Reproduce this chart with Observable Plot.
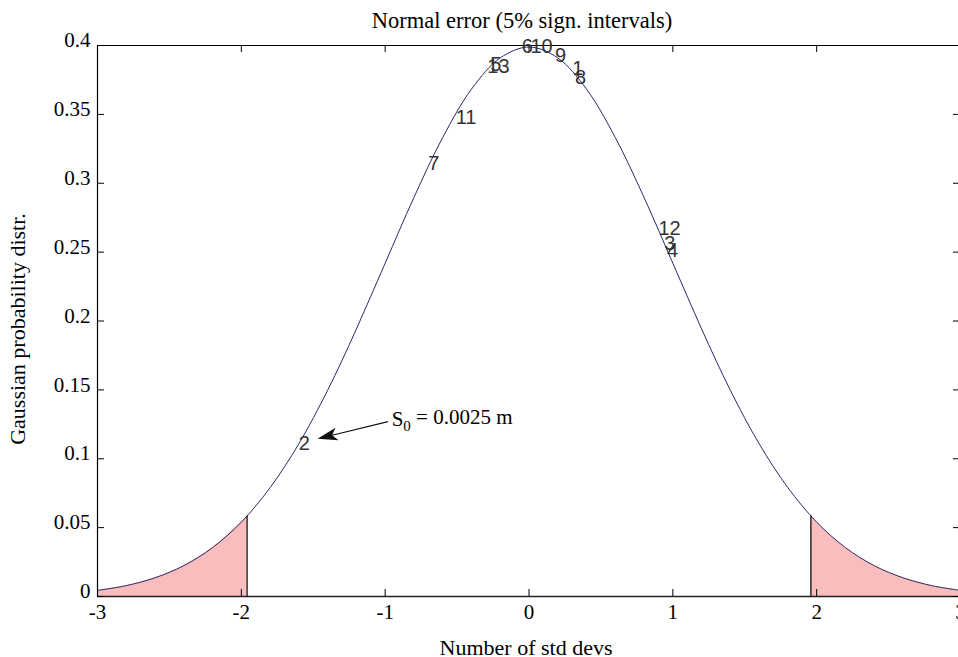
<!DOCTYPE html>
<html>
<head>
<meta charset="utf-8">
<script src="https://cdn.jsdelivr.net/npm/d3@7"></script>
<script src="https://cdn.jsdelivr.net/npm/@observablehq/plot@0.6"></script>
<style>
  html, body { margin: 0; padding: 0; background: #fff; }
  #chart svg { display: block; }
</style>
</head>
<body>
<div id="chart"></div>
<script>
// ---- data ----
const curveX = [-3.0, -2.8, -2.6, -2.4, -2.2, -2.0, -1.8, -1.6, -1.4, -1.2, -1.0, -0.8, -0.6, -0.4, -0.2, 0.0,
                0.2, 0.4, 0.6, 0.8, 1.0, 1.2, 1.4, 1.6, 1.8, 2.0, 2.2, 2.4, 2.6, 2.8, 3.0];
const curveY = [0.0044, 0.0079, 0.0136, 0.0224, 0.0355, 0.0540, 0.0790, 0.1109, 0.1497, 0.1942, 0.2420, 0.2897, 0.3332, 0.3683, 0.3910, 0.3989,
                0.3910, 0.3683, 0.3332, 0.2897, 0.2420, 0.1942, 0.1497, 0.1109, 0.0790, 0.0540, 0.0355, 0.0224, 0.0136, 0.0079, 0.0044];

const leftTailX  = [-3.0, -2.8, -2.6, -2.4, -2.2, -2.0, -1.96];
const leftTailY  = [0.0044, 0.0079, 0.0136, 0.0224, 0.0355, 0.0540, 0.0584];
const rightTailX = [1.96, 2.0, 2.2, 2.4, 2.6, 2.8, 3.0];
const rightTailY = [0.0584, 0.0540, 0.0355, 0.0224, 0.0136, 0.0079, 0.0044];

const critX = [-1.96, 1.96];
const critY = [0.0584, 0.0584];

const labelText = ["1", "2", "3", "4", "5", "6", "7", "8", "9", "10", "11", "12", "13"];
const labelX    = [0.30, -1.60, 0.94, 0.96, -0.27, -0.05, -0.70, 0.32, 0.18, 0.01, -0.51, 0.90, -0.29];
const labelY    = [0.383, 0.111, 0.256, 0.251, 0.386, 0.399, 0.314, 0.377, 0.393, 0.399, 0.348, 0.267, 0.385];

const annotText = "S0 = 0.0025 m";
const annotX = -0.955, annotY = 0.1285;
const arrowFrom = [-0.98, 0.127];
const arrowTo   = [-1.47, 0.1145];

const xTicks = [-3, -2, -1, 0, 1, 2, 3];
const yTicks = [0, 0.05, 0.1, 0.15, 0.2, 0.25, 0.3, 0.35, 0.4];
const yTickLabels = ["0", "0.05", "0.1", "0.15", "0.2", "0.25", "0.3", "0.35", "0.4"];

const titleText = "Normal error (5% sign. intervals)";
const xLabel = "Number of std devs";
const yLabel = "Gaussian probability distr.";

(function () {
// ---- build tables ----
const curve = curveX.map((x, i) => ({x, y: curveY[i]}));
const leftTail = leftTailX.map((x, i) => ({x, y: leftTailY[i]}));
const rightTail = rightTailX.map((x, i) => ({x, y: rightTailY[i]}));
const crit = critX.map((x, i) => ({x, y: critY[i]}));
const labels = labelText.map((t, i) => ({t, x: labelX[i], y: labelY[i]}));

const W = 958, H = 657;
const pL = 97, pR = 960, pT = 45, pB = 596;
const xDomain = [-3, 3], yDomain = [0, 0.4];
const kx = (pR - pL) / (xDomain[1] - xDomain[0]);
const ky = (pB - pT) / (yDomain[1] - yDomain[0]);
const tickPx = 7;
const tx = tickPx / kx;
const ty = tickPx / ky;

// arrow direction in screen pixels
const adx = (arrowTo[0] - arrowFrom[0]) * kx;
const ady = -(arrowTo[1] - arrowFrom[1]) * ky;
const alen = Math.hypot(adx, ady);
const headAngle = Math.atan2(adx, -ady) * 180 / Math.PI; // clockwise from "up"
const headLen = 20, notch = 15;
const shaftEnd = [arrowTo[0] - adx / alen * notch / kx, arrowTo[1] + ady / alen * notch / ky];

const arrowHead = {
  draw(context) {
    context.moveTo(0, 0);
    context.lineTo(-6.5, headLen);
    context.lineTo(0, notch);
    context.lineTo(6.5, headLen);
    context.closePath();
  }
};

const serif = "'Liberation Serif', 'Times New Roman', serif";
const narrow = "'Liberation Sans Narrow', 'Arial Narrow', 'Liberation Sans', sans-serif";
const navy = "#2a2a6a";
const pink = "#f9bdbd";

const plot = Plot.plot({
  width: W,
  height: H,
  marginLeft: pL,
  marginRight: 0,
  marginTop: pT,
  marginBottom: H - pB,
  style: {background: "#fff", fontFamily: serif},
  x: {domain: xDomain, range: [pL, pR], axis: null},
  y: {domain: yDomain, range: [pB, pT], axis: null},
  marks: [
    Plot.areaY(leftTail, {x: "x", y: "y", fill: pink, curve: "catmull-rom"}),
    Plot.areaY(rightTail, {x: "x", y: "y", fill: pink, curve: "catmull-rom"}),
    Plot.line(curve, {x: "x", y: "y", stroke: navy, strokeWidth: 1, curve: "catmull-rom"}),
    Plot.ruleX(crit, {x: "x", y1: 0, y2: "y", stroke: "#000", strokeWidth: 1.2}),
    // frame
    Plot.ruleY([yDomain[0]], {x1: xDomain[0], x2: xDomain[1], stroke: "#222", strokeWidth: 1.5}),
    Plot.ruleY([yDomain[1]], {x1: xDomain[0], x2: xDomain[1], stroke: "#000", strokeWidth: 1.2}),
    Plot.ruleX([xDomain[0]], {y1: yDomain[0], y2: yDomain[1], stroke: "#000", strokeWidth: 1.2}),
    Plot.ruleX([xDomain[1]], {y1: yDomain[0], y2: yDomain[1], stroke: "#000", strokeWidth: 1.2}),
    // inward ticks
    Plot.ruleX(xTicks, {x: d => d, y1: yDomain[0], y2: yDomain[0] + ty, stroke: "#000"}),
    Plot.ruleX(xTicks, {x: d => d, y1: yDomain[1], y2: yDomain[1] - ty, stroke: "#000"}),
    Plot.ruleY(yTicks, {y: d => d, x1: xDomain[0], x2: xDomain[0] + tx, stroke: "#000"}),
    Plot.ruleY(yTicks, {y: d => d, x1: xDomain[1], x2: xDomain[1] - tx, stroke: "#000"}),
    // tick labels
    Plot.text(xTicks, {x: d => d, y: yDomain[0], text: d => String(d), dy: 16, lineAnchor: "middle",
      textAnchor: "middle", fontSize: 21, fontFamily: serif, fill: "#000"}),
    Plot.text(yTicks, {x: xDomain[0], y: d => d, text: (d, i) => yTickLabels[i], dx: -7, dy: -5,
      lineAnchor: "middle", textAnchor: "end", fontSize: 21, fontFamily: serif, fill: "#000"}),
    // point labels
    Plot.text(labels, {x: "x", y: "y", text: "t", textAnchor: "start", lineAnchor: "middle",
      fontSize: 20, fontFamily: narrow, fill: "#333"}),
    // annotation arrow: shaft + filled head
    Plot.link([{x1: arrowFrom[0], y1: arrowFrom[1], x2: shaftEnd[0], y2: shaftEnd[1]}],
      {x1: "x1", y1: "y1", x2: "x2", y2: "y2", stroke: "#111", strokeWidth: 1.2}),
    Plot.dot([{x: arrowTo[0], y: arrowTo[1]}],
      {x: "x", y: "y", symbol: arrowHead, r: 5, rotate: headAngle, fill: "#111", stroke: "none"}),
    Plot.text([annotText], {x: annotX, y: annotY, text: d => d, textAnchor: "start", lineAnchor: "middle",
      fontSize: 21, fontFamily: serif, fill: "#000"})
  ]
});

const svg = d3.select(plot);
const addText = (str, x, y, size, rot) => {
  const t = svg.append("text")
    .attr("transform", `translate(${x},${y})` + (rot ? ` rotate(${rot})` : ""))
    .attr("text-anchor", "middle")
    .attr("dominant-baseline", "central")
    .attr("font-family", serif)
    .attr("font-size", size)
    .attr("fill", "#000")
    .text(str);
  return t;
};
addText(titleText, 522, 20, 22.5, 0);
addText(xLabel, 526, 647, 22, 0);
addText(yLabel, 17, 329, 22, -90);

// subscript in annotation
svg.selectAll("text").filter(function() { return this.textContent === annotText; })
  .each(function() {
    const t = d3.select(this);
    t.text(null);
    t.append("tspan").text("S");
    t.append("tspan").attr("font-size", 15).attr("dy", "0.3em").text("0");
    t.append("tspan").attr("dy", "-0.3em").text(" = 0.0025 m");
  });

document.getElementById("chart").appendChild(plot);
})();
</script>
</body>
</html>
